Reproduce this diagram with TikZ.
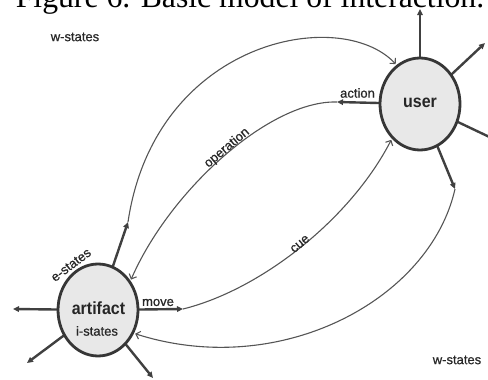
\documentclass[tikz,border=0pt]{standalone}
\usepackage{fontspec}
\setmainfont{Liberation Serif}
\setsansfont{Liberation Sans}
\newfontfamily\labfont{Liberation Sans}[FakeBold=0.6]
\usetikzlibrary{arrows.meta,shapes.geometric}
\definecolor{bordc}{HTML}{363636}
\definecolor{fillc}{HTML}{E8E8E8}
\definecolor{spokec}{HTML}{404040}
\definecolor{flowc}{HTML}{555555}
\definecolor{labc}{HTML}{262626}
\begin{document}
\begin{tikzpicture}[x=1pt,y=-1pt,
  blob/.style={ellipse, draw=bordc, line width=2.8pt, fill=fillc, minimum width=80pt, minimum height=92pt, inner sep=0pt},
  spoke/.style={draw=spokec, line width=2.4pt, -{Triangle[length=6pt,width=5.5pt]}},
  flow/.style={draw=flowc, line width=1.1pt, shorten >=1.2pt, -{Straight Barb[length=4pt,width=8pt]}},
  lab/.style={font=\labfont\fontsize{13}{13}\selectfont, text=labc, inner sep=0pt},
  big/.style={font=\sffamily\bfseries\fontsize{16}{16}\selectfont, text=labc, inner sep=0pt, yscale=1.1}]
\useasboundingbox (0,0) rectangle (488,380);
\clip (0,0) rectangle (488,380);

\node[font=\fontsize{31.7}{32}\selectfont, anchor=base] (title) at (250,7) {Figure 6. Basic model of interaction.};

% spoke end points
\coordinate (uN) at (420,9);
\coordinate (uNE) at (485,43);
\coordinate (uE) at (500,142);
\coordinate (uS) at (455,189);
\coordinate (act) at (337,102);
\coordinate (aW) at (13,309);
\coordinate (aSW) at (27,363);
\coordinate (aSE) at (153,378);
\coordinate (aN) at (128,222);
\coordinate (mv) at (183,309);

% spokes (drawn first, circles on top)
\draw[spoke] (420,104) -- (uN);
\draw[spoke] (420,104) -- (uNE);
\draw[spoke] (420,104) -- (uE);
\draw[spoke] (420,104) -- (uS);
\draw[spoke] (420,104) -- (act);
\draw[spoke] (98,310) -- (aW);
\draw[spoke] (98,310) -- (aSW);
\draw[spoke] (98,310) -- (aSE);
\draw[spoke] (98,310) -- (aN);
\draw[spoke] (98,310) -- (mv);

\node[blob] (user) at (420,104) {};
\node[blob] (art) at (98,310) {};

% flows
\draw[flow] (aN) .. controls (155,40) and (340,5) .. (user.121);
\draw[flow] (act) .. controls (270,100) and (170,190) .. (art.42);
\draw[flow] (mv) .. controls (260,290) and (350,220) .. (user.231);
\draw[flow] (uS) .. controls (430,300) and (280,380) .. (art.-33);

% labels
\node[lab] (ws1) at (75,37) {w-states};
\node[lab] (ws2) at (457,360) {w-states};
\node[lab] (actl) at (357.5,93) {action};
\node[lab] (mvl) at (158,302.5) {move};
\node[lab, rotate=40] (opl) at (227,148) {operation};
\node[lab, rotate=40] (cuel) at (300,244) {cue};
\node[lab, rotate=37] (esl) at (71,265) {e-states};
\node[big] (artl) at (98.5,308) {artifact};
\node[lab] (isl) at (97,331) {i-states};
\node[big] (userl) at (420,103) {user};
\end{tikzpicture}
\end{document}
